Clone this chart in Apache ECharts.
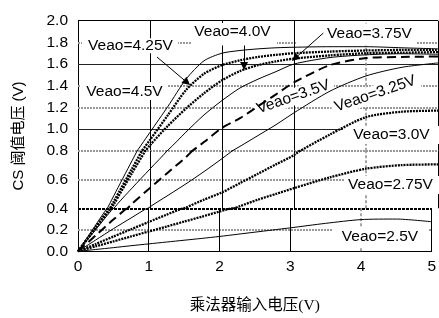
<!DOCTYPE html>
<html><head><meta charset="utf-8">
<script src="https://cdn.jsdelivr.net/npm/echarts@6/dist/echarts.min.js"></script>
<style>html,body{margin:0;padding:0;background:#fff}#c{width:439px;height:318px}</style>
</head><body><div id="c"></div>
<script>
// ---- data ----
const xs = [0,0.25,0.5,0.75,1,1.25,1.5,1.75,2,2.25,2.5,2.75,3,3.5,4,4.5,5];
const curveNames = ['Veao=4.5V','Veao=4.25V','Veao=4.0V','Veao=3.75V','Veao=3.5V','Veao=3.25V','Veao=3.0V','Veao=2.75V','Veao=2.5V'];
const v450 = [0,0.245,0.49,0.73,0.97,1.21,1.46,1.63,1.70,1.725,1.74,1.75,1.755,1.76,1.76,1.75,1.74];
const v425 = [0,0.225,0.45,0.675,0.9,1.13,1.36,1.51,1.59,1.635,1.665,1.685,1.70,1.715,1.725,1.73,1.73];
const v400 = [0,0.215,0.43,0.645,0.85,1.03,1.19,1.33,1.45,1.535,1.59,1.625,1.65,1.68,1.70,1.705,1.71];
const v375 = [0,0.2,0.4,0.54,0.673,0.806,0.972,1.13,1.263,1.379,1.46,1.53,1.60,1.66,1.685,1.695,1.69];
const v350 = [0,0.147,0.295,0.431,0.541,0.649,0.756,0.88,1.01,1.10,1.21,1.32,1.43,1.59,1.655,1.665,1.67];
const v325 = [0,0.105,0.21,0.31,0.41,0.49,0.57,0.655,0.745,0.84,0.94,1.04,1.15,1.35,1.49,1.57,1.61];
const v300 = [0,0.068,0.137,0.205,0.273,0.34,0.405,0.46,0.51,0.575,0.64,0.705,0.77,0.95,1.11,1.16,1.17];
const v275 = [0,0.046,0.092,0.138,0.184,0.23,0.276,0.322,0.37,0.415,0.46,0.50,0.54,0.615,0.675,0.70,0.705];
const v250 = [0,0.017,0.034,0.052,0.069,0.086,0.103,0.12,0.138,0.158,0.178,0.198,0.218,0.26,0.295,0.30,0.275];
const xTickLabels = ['0','1','2','3','4','5'];
const yTickLabels = ['0.0','0.2','0.4','0.6','0.8','1.0','1.2','1.4','1.6','1.8','2.0'];
const xName = '乘法器输入电压(V)';
const yName = 'CS 阈值电压 (V)';

// ---- styling / layout ----
const curveValues = [v450,v425,v400,v375,v350,v325,v300,v275,v250];
const curveKind = ['thin','dotted','dotted','thin','dashed','thin','dotted','dotted','thin'];
const kindStyle = {
  thin:{color:'#000',width:1,type:'solid'},
  dotted:{color:'#000',width:2.3,type:[2,1]},
  dashed:{color:'#000',width:2,type:[9,5]}
};
// the reference's y axis is stretched between 0.4 and 0.8: three stacked bands
const bands = [
  {min:0.8,max:2.0,top:20.7,height:130},
  {min:0.4,max:0.8,top:150.7,height:57.6},
  {min:0,max:0.4,top:208.3,height:43}
];
const greyDot = {color:'#999',width:2,type:[2,1]};
const darkSolid = {color:'#222',width:1.2,type:'solid'};
const blackSolid = {color:'#000',width:1,type:'solid'};
const bandGridLines = [
  [{yAxis:2.0,lineStyle:blackSolid},{yAxis:1.8,lineStyle:greyDot},{yAxis:1.6,lineStyle:darkSolid},{yAxis:1.4,lineStyle:greyDot},{yAxis:1.2,lineStyle:greyDot},{yAxis:1.0,lineStyle:darkSolid}],
  [{yAxis:0.8,lineStyle:greyDot},{yAxis:0.6,lineStyle:greyDot}],
  [{yAxis:0.4,lineStyle:{color:'#000',width:2,type:[3,1]}},{yAxis:0.2,lineStyle:greyDot}]
];
const vLines = [
  {xAxis:1,lineStyle:blackSolid},{xAxis:2,lineStyle:blackSolid},{xAxis:3,lineStyle:blackSolid},
  {xAxis:4,lineStyle:{color:'#888',width:1.5,type:[3,2]}},{xAxis:5,lineStyle:blackSolid}
];
const FONT = '"Liberation Sans", Arial, sans-serif';

const series = [];
bands.forEach((b,bi)=>{
  series.push({type:'line',xAxisIndex:bi,yAxisIndex:bi,data:[],silent:true,clip:false,z:1,
    markLine:{z:1,silent:true,symbol:'none',animation:false,label:{show:false},emphasis:{disabled:true},
      data:bandGridLines[bi].concat(vLines)}});
});
curveValues.forEach((vals,ci)=>{
  bands.forEach((b,bi)=>{
    series.push({name:curveNames[ci],type:'line',xAxisIndex:bi,yAxisIndex:bi,
      data:xs.map((x,k)=>[x,vals[k]]),showSymbol:false,symbol:'none',smooth:0.25,clip:true,z:10,silent:true,
      lineStyle:kindStyle[curveKind[ci]]});
  });
});
// annotation arrows (grid 0)
series.push({type:'line',xAxisIndex:0,yAxisIndex:0,data:[],silent:true,clip:false,z:12,
  markLine:{z:12,silent:true,symbol:['none','triangle'],symbolSize:8,animation:false,label:{show:false},
    lineStyle:{color:'#000',width:1,type:'solid'},emphasis:{disabled:true},
    data:[
      [{coord:[1.097,1.665]},{coord:[1.514,1.430]}],
      [{coord:[2.306,1.771]},{coord:[2.306,1.582]}],
      [{coord:[3.407,1.886]},{coord:[3.014,1.653]}]
    ]}});

const labelLayout = [
  {i:1,cx:130.5,cy:46.2,box:[82,38.3,178,53.3]},
  {i:0,cx:124.5,cy:91.5,box:[81,82,168,100]},
  {i:2,cx:232.5,cy:31.3,box:[191,23,277,45.5]},
  {i:3,cx:369.5,cy:34.2,box:[296,23.5,417,45.5]},
  {i:4,cx:293.3,cy:97,rot:19,w:84,h:17},
  {i:5,cx:375.3,cy:93.8,rot:19,w:92,h:17},
  {i:6,cx:391.5,cy:135.2,box:[343,126,439,144]},
  {i:7,cx:390.5,cy:185,box:[345,176,439,194]},
  {i:8,cx:380,cy:236.7,box:[333,227,428,247]}
];
const graphic = [];
labelLayout.forEach(l=>{
  if(l.box){
    graphic.push({type:'rect',z:3,silent:true,shape:{x:l.box[0],y:l.box[1],width:l.box[2]-l.box[0],height:l.box[3]-l.box[1]},style:{fill:'#fff'}});
    graphic.push({type:'text',z:4,silent:true,x:l.cx,y:l.cy,style:{text:curveNames[l.i],font:'15.5px '+FONT,fill:'#000',align:'center',verticalAlign:'middle'}});
  } else {
    const r = l.rot*Math.PI/180;
    graphic.push({type:'rect',z:3,silent:true,x:l.cx,y:l.cy,rotation:r,shape:{x:-l.w/2,y:-l.h/2,width:l.w,height:l.h},style:{fill:'#fff'}});
    graphic.push({type:'text',z:4,silent:true,x:l.cx,y:l.cy,rotation:r,style:{text:curveNames[l.i],font:'15.5px '+FONT,fill:'#000',align:'center',verticalAlign:'middle'}});
  }
});
graphic.push({type:'text',z:4,silent:true,x:19,y:136,rotation:Math.PI/2,
  style:{text:yName,font:'15px "Liberation Sans", Arial, "Noto Sans CJK SC", sans-serif',fill:'#000',align:'center',verticalAlign:'middle'}});

const option = {
  animation:false,
  backgroundColor:'#fff',
  grid: bands.map(b=>({left:78,width:360,top:b.top,height:b.height})),
  xAxis: bands.map((b,i)=>({gridIndex:i,type:'value',min:0,max:5,interval:1,
    axisLine:{show:i===2,lineStyle:{color:'#000',width:1}},axisTick:{show:false},splitLine:{show:false},
    axisLabel:{show:i===2,margin:7,fontSize:15.5,fontFamily:FONT,color:'#000',formatter:v=>xTickLabels[Math.round(v)]},
    name:i===2?xName:'',nameLocation:'middle',nameGap:47,
    nameTextStyle:{fontSize:15.5,fontFamily:'"Liberation Serif", "Noto Sans CJK SC", serif',color:'#000'}})),
  yAxis: bands.map((b,i)=>({gridIndex:i,type:'value',min:b.min,max:b.max,interval:0.2,
    axisLine:{show:true,lineStyle:{color:'#000',width:1}},axisTick:{show:false},splitLine:{show:false},
    axisLabel:{margin:10,fontSize:15.5,fontFamily:FONT,color:'#000',showMinLabel:i===2,showMaxLabel:true,
      formatter:v=>yTickLabels[Math.round(v/0.2)]}})),
  series: series,
  graphic: graphic
};
const chart = echarts.init(document.getElementById('c'),null,{renderer:'canvas'});
chart.setOption(option);
</script>
</body></html>
